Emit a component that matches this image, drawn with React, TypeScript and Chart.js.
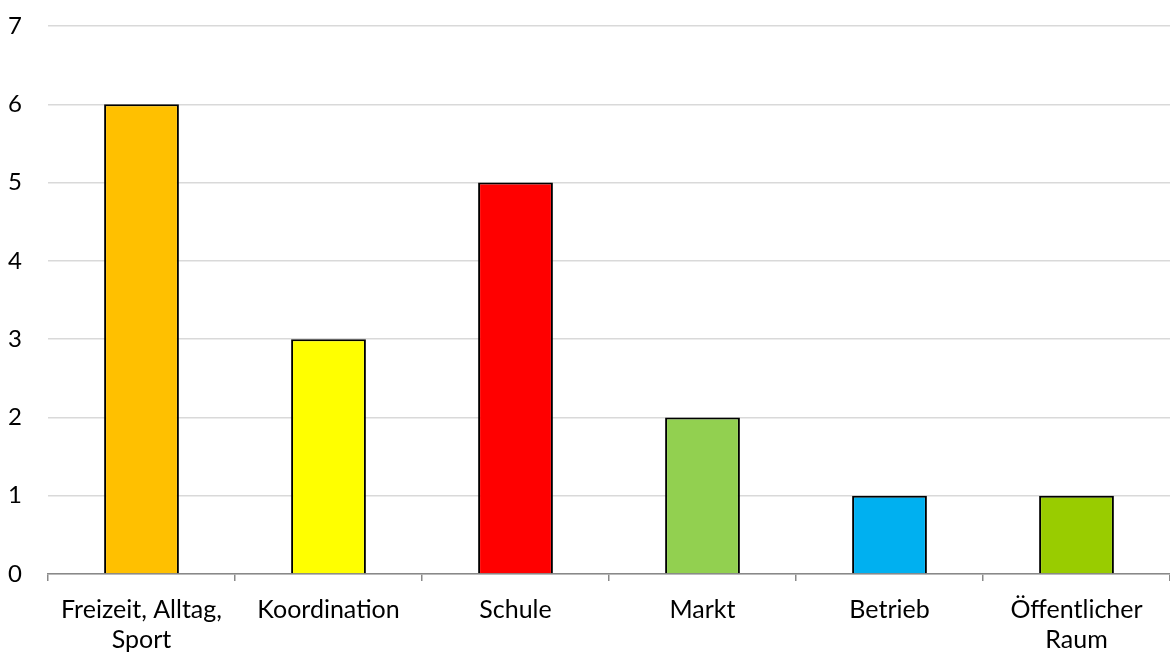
import React, { useEffect, useRef } from "react";
import { Chart, registerables } from "chart.js";

Chart.register(...registerables);

const categories: (string | string[])[] = [
  ["Freizeit, Alltag,", "Sport"],
  "Koordination",
  "Schule",
  "Markt",
  "Betrieb",
  ["Öffentlicher", "Raum"],
];
const values = [6, 3, 5, 2, 1, 1];
const barColors = ["#FFC000", "#FFFF00", "#FF0000", "#92D050", "#00B0F0", "#99CC00"];
const yMin = 0;
const yMax = 7;

const FONT = "Lato, 'Open Sans', 'Noto Sans', sans-serif";

export default function App() {
  const ref = useRef<HTMLCanvasElement | null>(null);
  useEffect(() => {
    if (!ref.current) return;
    const chart = new Chart(ref.current, {
      type: "bar",
      data: {
        labels: categories,
        datasets: [
          {
            data: values,
            backgroundColor: barColors,
            borderColor: "#000000",
            borderWidth: 2,
            categoryPercentage: 1,
            barPercentage: 0.4,
          },
        ],
      },
      options: {
        animation: false,
        responsive: false,
        maintainAspectRatio: false,
        layout: { padding: { top: 26, right: 0, left: 0, bottom: 0 } },
        plugins: { legend: { display: false }, tooltip: { enabled: false } },
        scales: {
          x: {
            grid: {
              offset: true,
              drawOnChartArea: false,
              color: "#898989",
              tickLength: 7,
              lineWidth: 1.5,
            },
            border: { color: "#898989", width: 1.5 },
            ticks: {
              color: "#000000",
              font: { family: FONT, size: 25, lineHeight: 1.2 },
              padding: 14,
              maxRotation: 0,
              autoSkip: false,
            },
            afterFit: (s: any) => {
              s.height = 79;
              s.paddingLeft = 0;
              s.paddingRight = 0;
            },
          },
          y: {
            min: yMin,
            max: yMax,
            grid: { color: "#D9D9D9", lineWidth: 1.5, tickLength: 0 },
            border: { display: false },
            ticks: {
              stepSize: 1,
              color: "#000000",
              font: { family: FONT, size: 24 },
              padding: 26,
            },
            afterFit: (s: any) => {
              s.width = 48;
              s.paddingTop = 0;
              s.paddingBottom = 0;
            },
          },
        },
      },
    });
    return () => chart.destroy();
  }, []);
  return (
    <div style={{ position: "fixed", left: 0, top: 0, width: 1170, height: 653, background: "#fff" }}>
      <canvas ref={ref} width={1170} height={653} style={{ width: 1170, height: 653 }} />
    </div>
  );
}
